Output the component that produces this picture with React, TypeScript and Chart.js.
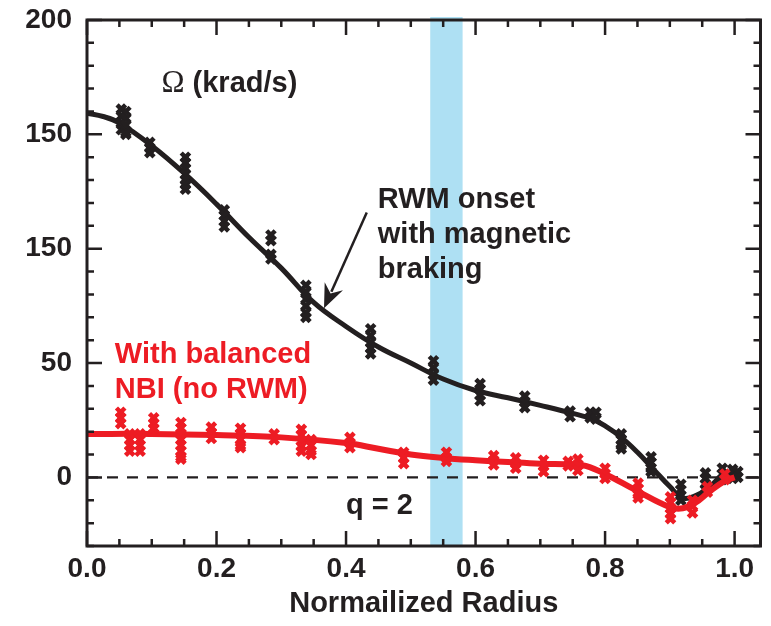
import React, { useEffect, useRef } from 'react';
import { Chart, registerables } from 'chart.js';
Chart.register(...registerables);

// ---- Data ----
const blackCurveX = [0, 0.025, 0.05, 0.1, 0.15, 0.2, 0.25, 0.3, 0.35, 0.4, 0.45, 0.5, 0.55, 0.6, 0.65, 0.7, 0.75, 0.78, 0.8, 0.825, 0.85, 0.875, 0.9, 0.92, 0.94, 0.96, 0.98, 1.0];
const blackCurveY = [159.3, 157.8, 155, 145, 133, 119.5, 105, 91.5, 76.5, 66, 57, 50, 43, 38, 34.8, 31.5, 28, 25.5, 22.5, 17.5, 11, 3.5, -4, -9, -8, -4.5, 0.5, 2];

const redCurveX = [0, 0.1, 0.2, 0.3, 0.4, 0.45, 0.5, 0.55, 0.6, 0.65, 0.7, 0.75, 0.77, 0.8, 0.85, 0.9, 0.92, 0.94, 0.96, 0.985, 1.0];
const redCurveY = [19, 19, 18.5, 17.5, 15, 12.5, 10, 8.5, 7.5, 6.7, 6, 5.7, 5, 1.5, -6, -13, -13.5, -11, -6.5, -1.5, 0];

const blackPointX = [0.053, 0.06, 0.097, 0.152, 0.212, 0.284, 0.338, 0.438, 0.535, 0.607, 0.676, 0.746, 0.777, 0.786, 0.825, 0.871, 0.917, 0.955, 0.981, 0.997, 1.005];
const blackPointY = [
  [161, 158, 155, 152], [160, 157, 154, 151, 150], [146.5, 144, 142], [140, 137.5, 135, 132.5, 130, 128, 126],
  [117, 114.5, 112, 109.5], [106, 103.5, 97.5, 95.5], [84, 81, 78, 75, 72, 70], [65, 62, 59, 56.5, 54],
  [51, 48, 45, 42.5], [41, 38.5, 36, 33.5], [35.5, 33, 30.5], [29, 26.5], [28.5, 26], [28.5, 25.5],
  [19, 16.5, 14, 12.5], [9, 6.5, 4, 2.5], [-3, -5.5, -8, -10], [2, -0.5, -3, -5], [4, 1.5, -1], [3.5, 1, -0.5], [2.5, 0],
];

const redPointX = [0.052, 0.066, 0.082, 0.103, 0.145, 0.192, 0.237, 0.289, 0.331, 0.346, 0.406, 0.489, 0.555, 0.628, 0.662, 0.705, 0.743, 0.758, 0.8, 0.851, 0.901, 0.935, 0.958, 0.985];
const redPointY = [
  [28.5, 26, 23.5], [19, 16.5, 14, 11.5], [19, 16.5, 14, 11.5], [26, 23.5, 21.5], [24, 21.5, 19, 16.5, 14, 11.5, 9, 8],
  [22, 19.5, 17], [21.5, 19, 16.5, 14, 13], [19, 16.5], [21, 18.5, 16, 13.5, 11.5], [16.5, 14, 11.5, 10], [17.5, 15, 13],
  [11, 8.5, 6], [11, 8.5, 7], [9.5, 7.5, 5.5], [8.5, 6, 4], [7.5, 5, 2.5], [7, 5], [8, 5.5, 3],
  [4, 1.5, -0.5], [-2.5, -5, -7.5, -9], [-8.5, -11, -13.5, -16, -18], [-10, -12.5, -15.5], [-4, -6.5], [1.5, -1],
];

const xTicks = [0, 0.2, 0.4, 0.6, 0.8, 1.0];
const xTickLabels = ['0.0', '0.2', '0.4', '0.6', '0.8', '1.0'];
const yTicks = [0, 50, 100, 150, 200];
const yTickLabels = ['0', '50', '150', '150', '200'];

const bandRange = [0.53, 0.58];

const BLACK = '#231f20';
const RED = '#ed1c24';
const BLUE = '#aee0f3';
const SANS = '"Liberation Sans", Arial, Helvetica, sans-serif';

const toXY = (xs: number[], ys: number[]) => xs.map((x, i) => ({ x, y: ys[i] }));
const flatten = (xs: number[], ys: number[][]) => {
  const out: { x: number; y: number }[] = [];
  xs.forEach((x, i) => ys[i].forEach((y) => out.push({ x, y })));
  return out;
};

const decor = {
  id: 'decor',
  beforeDatasetsDraw(chart: any) {
    const { ctx, chartArea: a, scales } = chart;
    const xs = scales.x, ys = scales.y;
    ctx.save();
    const bx0 = xs.getPixelForValue(bandRange[0]);
    const bx1 = xs.getPixelForValue(bandRange[1]);
    ctx.fillStyle = BLUE;
    ctx.fillRect(bx0, a.top - 3, bx1 - bx0, a.bottom - a.top + 3);
    const y0 = ys.getPixelForValue(0);
    ctx.strokeStyle = BLACK;
    ctx.lineWidth = 2.2;
    ctx.setLineDash([11, 9]);
    ctx.beginPath();
    ctx.moveTo(a.left, y0);
    ctx.lineTo(a.right, y0);
    ctx.stroke();
    ctx.restore();
  },
  afterDatasetsDraw(chart: any) {
    const { ctx, chartArea: a, scales } = chart;
    const xs = scales.x, ys = scales.y;
    ctx.save();
    ctx.strokeStyle = BLACK;
    ctx.lineWidth = 3;
    ctx.strokeRect(a.left, a.top, a.right - a.left, a.bottom - a.top);
    ctx.lineWidth = 2.5;
    const major = 15, minor = 7;
    for (let i = 0; i <= 20; i++) {
      const v = i * 0.05;
      const len = i % 4 === 0 ? major : minor;
      const px = xs.getPixelForValue(v);
      ctx.beginPath();
      ctx.moveTo(px, a.bottom); ctx.lineTo(px, a.bottom - len);
      ctx.moveTo(px, a.top); ctx.lineTo(px, a.top + len);
      ctx.stroke();
    }
    for (let v = -30; v <= 200; v += 10) {
      const len = v % 50 === 0 ? major : minor;
      const py = ys.getPixelForValue(v);
      ctx.beginPath();
      ctx.moveTo(a.left, py); ctx.lineTo(a.left + len, py);
      ctx.moveTo(a.right, py); ctx.lineTo(a.right - len, py);
      ctx.stroke();
    }
    const X = (v: number) => xs.getPixelForValue(v);
    const Y = (v: number) => ys.getPixelForValue(v);
    ctx.textAlign = 'left';
    ctx.textBaseline = 'alphabetic';
    ctx.fillStyle = BLACK;
    ctx.font = '31px "Liberation Serif", "Times New Roman", serif';
    ctx.fillText('\u03A9', X(0.115), Y(168.4));
    const omW = ctx.measureText('\u03A9').width;
    ctx.font = `bold 29px ${SANS}`;
    ctx.fillText(' (krad/s)', X(0.115) + omW, Y(168.4));
    ctx.fillText('RWM onset', X(0.449), Y(118));
    ctx.fillText('with magnetic', X(0.449), Y(102.6));
    ctx.fillText('braking', X(0.449), Y(87.3));
    ctx.fillText('q = 2', X(0.4), Y(-16.2));
    ctx.fillStyle = RED;
    ctx.fillText('With balanced', X(0.043), Y(50));
    ctx.fillText('NBI (no RWM)', X(0.043), Y(34.6));
    // arrow
    const sx = X(0.432), sy = Y(115.8), ex = X(0.366), ey = Y(74);
    const ang = Math.atan2(ey - sy, ex - sx);
    const hl = 24, hw = 10;
    const bx = ex - hl * Math.cos(ang), by = ey - hl * Math.sin(ang);
    ctx.strokeStyle = BLACK;
    ctx.fillStyle = BLACK;
    ctx.lineWidth = 2.5;
    ctx.beginPath();
    ctx.moveTo(sx, sy); ctx.lineTo(bx + 6 * Math.cos(ang), by + 6 * Math.sin(ang));
    ctx.stroke();
    ctx.beginPath();
    ctx.moveTo(ex, ey);
    ctx.lineTo(bx + hw * Math.sin(ang), by - hw * Math.cos(ang));
    ctx.lineTo(bx + 8 * Math.cos(ang), by + 8 * Math.sin(ang));
    ctx.lineTo(bx - hw * Math.sin(ang), by + hw * Math.cos(ang));
    ctx.closePath();
    ctx.fill();
    ctx.restore();
  },
};

export default function App() {
  const ref = useRef<HTMLCanvasElement>(null);
  useEffect(() => {
    document.body.style.margin = '0';
    const canvas = ref.current!;
    const tickFont = { family: SANS, size: 28, weight: 'bold' as const };
    const marker = { pointStyle: 'crossRot', pointRadius: 6, borderWidth: 4.5 };
    const chart = new Chart(canvas, {
      type: 'scatter',
      data: {
        datasets: [
          { type: 'scatter', data: flatten(redPointX, redPointY), ...marker, borderColor: RED, backgroundColor: RED } as any,
          {
            type: 'line', data: toXY(redCurveX, redCurveY), borderColor: RED, borderWidth: 6,
            pointRadius: 0, tension: 0.4, fill: false,
          } as any,
          { type: 'scatter', data: flatten(blackPointX, blackPointY), ...marker, borderColor: BLACK, backgroundColor: BLACK } as any,
          {
            type: 'line', data: toXY(blackCurveX, blackCurveY), borderColor: BLACK, borderWidth: 5,
            pointRadius: 0, tension: 0.4, fill: false,
          } as any,
        ],
      },
      options: {
        responsive: false,
        animation: false,
        layout: { padding: { top: 20, right: 8, left: 0, bottom: 0 } },
        plugins: { legend: { display: false }, tooltip: { enabled: false } },
        scales: {
          x: {
            type: 'linear',
            min: 0,
            max: 1.04,
            afterFit: (s: any) => { s.height = 80; s.paddingLeft = 0; s.paddingRight = 0; },
            afterBuildTicks: (s: any) => { s.ticks = xTicks.map((v) => ({ value: v })); },
            grid: { display: false, drawTicks: false },
            border: { display: false },
            ticks: {
              padding: 6, color: BLACK, font: tickFont, maxRotation: 0, autoSkip: false,
              callback: (_v: any, i: number) => xTickLabels[i],
            },
            title: {
              display: true,
              text: 'Normailized Radius',
              color: BLACK,
              font: { family: SANS, size: 29, weight: 'bold' },
              padding: { top: 0, bottom: 5 },
            },
          },
          y: {
            type: 'linear',
            min: -30,
            max: 200,
            afterFit: (s: any) => { s.width = 87; s.paddingTop = 0; s.paddingBottom = 0; },
            afterBuildTicks: (s: any) => { s.ticks = yTicks.map((v) => ({ value: v })); },
            grid: { display: false, drawTicks: false },
            border: { display: false },
            ticks: {
              padding: 15, color: BLACK, font: tickFont, autoSkip: false,
              callback: (_v: any, i: number) => yTickLabels[i],
            },
          },
        },
      } as any,
      plugins: [decor],
    });
    return () => chart.destroy();
  }, []);
  return <canvas ref={ref} width={771} height={626} style={{ display: 'block' }} />;
}
